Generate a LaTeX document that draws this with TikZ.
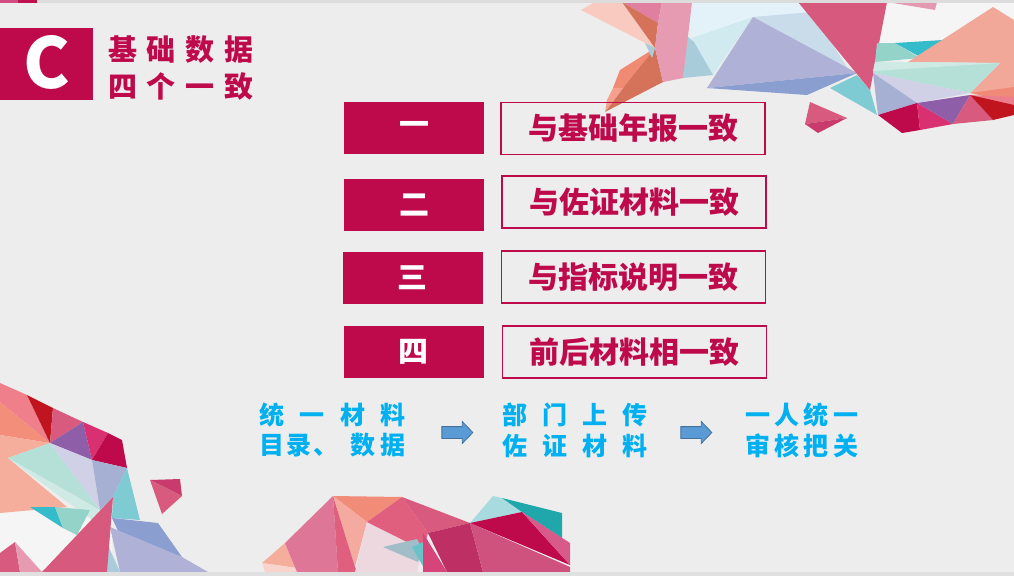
\documentclass[tikz,border=0pt]{standalone}
\usepackage{fontspec}
\setmainfont{Noto Sans CJK SC}
\usetikzlibrary{shapes.arrows}
\definecolor{bg}{HTML}{EDEDED}
\definecolor{crim}{RGB}{190,10,75}
\definecolor{cblue}{RGB}{0,176,240}
\definecolor{arrfill}{HTML}{5B9BD5}
\definecolor{arrdraw}{HTML}{41719C}
\newcommand\shard[2]{\definecolor{shardc}{HTML}{#1}\fill[shardc] #2 -- cycle;}
\tikzset{
  numbox/.style={fill=crim, minimum width=140pt, minimum height=52pt, inner sep=0pt, text=white, font=\bfseries\fontsize{30}{30}\selectfont},
  itembox/.style={draw=crim, line width=1.1pt, minimum width=264pt, minimum height=52pt, inner sep=0pt, text=crim, font=\bfseries\fontsize{30}{30}\selectfont},
  bluetxt/.style={text=cblue, font=\bfseries\fontsize{25}{25}\selectfont, inner sep=0pt},
  titletxt/.style={text=crim, font=\bfseries\fontsize{29}{29}\selectfont, inner sep=0pt},
  blockarrow/.style={single arrow, draw=arrdraw, fill=arrfill, line width=0.8pt, inner sep=0pt, text height=11pt, text depth=0pt, text width=1pt, minimum height=31pt, single arrow head extend=5pt, single arrow tip angle=92},
}
\begin{document}
\begin{tikzpicture}[x=1pt,y=-1pt]
\useasboundingbox (0,0) rectangle (1014,576);
\fill[bg] (0,0) rectangle (1014,576);
% ---------- top-right decoration ----------
\shard{F5F5F5}{(875,2)--(1014,2)--(1014,70)--(905,62)--(875,45)}
\shard{F9CBC0}{(581,10)--(595,2)--(622,2)--(655,48)}
\shard{E07FA0}{(622,2)--(662,2)--(658,23)}
\shard{D4735A}{(622,2)--(658,23)--(655,48)}
\shard{F08A72}{(655,48)--(620,70)--(613,88)--(623,88)}
\shard{D4735A}{(655,48)--(663,82)--(605,112)--(623,88)}
\shard{F5A08C}{(613,88)--(623,88)--(605,112)--(607,100)}
\shard{A9CCDB}{(645,43)--(655,48)--(652,58)}
\shard{E2F2F8}{(690,22)--(692,2)--(800,2)--(812,25)--(753,17)--(692,38)}
\shard{D0EAEF}{(692,38)--(753,17)--(713,75)--(700,62)}
\shard{C8DCEA}{(753,17)--(812,12)--(850,72)--(795,40)}
\shard{A9CCDB}{(686,35)--(694,42)--(713,75)--(683,78)}
\shard{E79BB3}{(662,2)--(692,2)--(683,78)--(663,82)--(655,48)--(658,23)}
\shard{AFB2D6}{(753,17)--(707,88)--(857,73)}
\shard{8A9FD0}{(707,88)--(807,95)--(857,73)}
\shard{7ECBD3}{(830,88)--(857,75)--(870,90)--(877,115)}
\shard{D75A7E}{(798,2)--(887,2)--(870,90)}
\shard{E39AB0}{(887,2)--(937,2)--(935,10)}
\shard{94D3C8}{(877,43)--(895,43)--(920,58)--(875,62)}
\shard{35BCCB}{(895,43)--(943,40)--(920,57)}
\shard{F2A898}{(908,62)--(993,7)--(1014,20)--(1014,93)--(970,93)--(1000,63)}
\shard{B5E0D8}{(875,62)--(1000,63)--(970,93)--(873,73)}
\shard{CFEAE4}{(875,62)--(1000,63)--(873,71)}
\shard{D0D1E6}{(873,73)--(970,93)--(917,103)}
\shard{A6B0D3}{(873,73)--(917,103)--(878,115)}
\shard{BE0A4B}{(878,115)--(917,103)--(920,130)--(902,133)}
\shard{D83070}{(917,103)--(953,124)--(920,130)}
\shard{8E5FA8}{(917,103)--(970,95)--(953,124)}
\shard{D85A7E}{(970,95)--(993,120)--(953,124)}
\shard{F08A78}{(970,93)--(1014,87)--(1014,103)}
\shard{EC7D8C}{(970,95)--(1014,97)--(1014,108)}
\shard{C0141E}{(970,95)--(1014,105)--(1014,115)--(993,120)}
\shard{D85A7E}{(810,102)--(847,118)--(805,124)}
\shard{C93B6C}{(805,124)--(847,118)--(818,133)}
% ---------- bottom-left decoration ----------
\shard{F5F5F5}{(0,505)--(60,508)--(112,518)--(112,572)--(0,572)}
\shard{EE7F8B}{(0,383)--(27,395)--(50,443)--(0,402)}
\shard{F28E7A}{(0,402)--(50,443)--(0,435)}
\shard{C0141E}{(27,395)--(53,408)--(50,443)}
\shard{D85A7E}{(53,408)--(83,422)--(50,443)}
\shard{8E5FA8}{(50,443)--(83,422)--(92,460)}
\shard{D83070}{(83,422)--(108,433)--(92,460)}
\shard{BE0A4B}{(108,433)--(122,440)--(127,468)--(92,460)}
\shard{F5AE9C}{(0,435)--(50,443)--(8,458)--(67,507)--(0,513)}
\shard{B5E0D8}{(8,458)--(50,443)--(100,510)}
\shard{CFEAE4}{(8,458)--(100,510)--(92,520)}
\shard{D0D1E6}{(50,443)--(92,460)--(100,510)}
\shard{A6B0D3}{(92,460)--(127,468)--(113,497)--(100,510)}
\shard{7ECBD3}{(127,468)--(140,520)--(112,518)--(113,497)}
\shard{35BCCB}{(30,507)--(55,507)--(63,528)}
\shard{94D3C8}{(55,507)--(90,510)--(77,535)--(63,528)}
\shard{8A9FD0}{(112,518)--(158,523)--(182,557)--(120,535)}
\shard{AFB2D6}{(110,527)--(182,557)--(208,572)--(120,572)}
\shard{A9CCDB}{(107,543)--(120,572)--(107,572)}
\shard{D75A7E}{(113,497)--(107,572)--(42,572)}
\shard{D85A7E}{(0,553)--(15,542)--(20,572)--(0,572)}
\shard{E79BB3}{(15,542)--(42,572)--(20,572)}
\shard{C93B6C}{(150,480)--(180,479)--(182,496)}
\shard{D85A7E}{(150,480)--(182,496)--(162,514)}
% ---------- bottom-middle decoration ----------
\shard{A8DBDF}{(493,496)--(502,498)--(522,512)--(470,523)}
\shard{20A7AC}{(502,498)--(562,513)--(562,538)--(522,512)}
\shard{F5AE9C}{(262,563)--(285,543)--(297,568)}
\shard{FAD3CC}{(262,563)--(297,568)--(297,572)--(265,572)}
\shard{DE7797}{(285,543)--(333,496)--(338,572)--(297,572)}
\shard{F08C78}{(333,496)--(402,497)--(367,522)}
\shard{F5AAA0}{(333,496)--(367,522)--(355,567)}
\shard{E05F7E}{(333,496)--(355,567)--(358,572)--(338,572)}
\shard{EDD8E0}{(367,522)--(423,550)--(417,572)--(355,572)}
\shard{E05F7E}{(367,522)--(402,497)--(428,533)--(423,550)}
\shard{A0BDC8}{(383,547)--(417,539)--(423,550)--(418,562)}
\shard{67C3C8}{(412,547)--(428,540)--(424,568)}
\shard{D85A7E}{(402,497)--(470,523)--(428,533)}
\shard{D6457A}{(423,533)--(447,572)--(423,572)}
\shard{BE3064}{(428,533)--(470,523)--(483,572)--(447,572)}
\shard{CF527E}{(470,523)--(570,567)--(570,572)--(483,572)}
\shard{BE0A4B}{(470,523)--(522,512)--(570,565)}
\shard{D85A88}{(522,512)--(570,543)--(570,565)}
% ---------- frame strips ----------
\shard{DCDCDC}{(0,0)--(1014,0)--(1014,2.5)--(0,2.5)}
\shard{D04B7F}{(0,0)--(18,0)--(18,2.5)--(0,2.5)}
\shard{C0104E}{(18,0)--(37,0)--(37,2.5)--(18,2.5)}
\shard{E0E0E0}{(0,572)--(1014,572)--(1014,576)--(0,576)}
% ---------- title ----------
\node[fill=crim, minimum width=93pt, minimum height=72pt, inner sep=0pt, anchor=north west] (cbox) at (0,28) {};
\node[text=white, font=\bfseries\fontsize{70}{70}\selectfont, inner sep=0pt] (cletter) at (47,62) {C};
\node[titletxt] (title1) at (180.5,50) {\makebox[145pt][s]{基\hfill 础\hfill 数\hfill 据}};
\node[titletxt] (title2) at (180.5,86) {\makebox[145pt][s]{四\hfill 个\hfill 一\hfill 致}};
% ---------- boxes ----------
\node[numbox] (n1) at (414,128) {一};
\node[itembox] (i1) at (633,128.5) {与基础年报一致};
\node[numbox] (n2) at (414,205) {二};
\node[itembox] (i2) at (634,202) {与佐证材料一致};
\node[numbox] (n3) at (412.5,277.5) {三};
\node[itembox] (i3) at (633.5,277) {与指标说明一致};
\node[numbox] (n4) at (413.5,352) {四};
\node[itembox] (i4) at (634.5,352) {前后材料相一致};
% ---------- bottom flow ----------
\node[bluetxt] (a1) at (332.5,415) {\makebox[146pt][s]{统\hfill 一\hfill 材\hfill 料}};
\node[bluetxt] (a2) at (332.5,445.5) {\makebox[146pt][s]{目\hspace{2pt}录\hspace{2pt}、\hfill 数\hspace{5pt}据}};
\node[bluetxt] (b1) at (574.5,415) {\makebox[145pt][s]{部\hfill 门\hfill 上\hfill 传}};
\node[bluetxt] (b2) at (574.5,445.5) {\makebox[145pt][s]{佐\hfill 证\hfill 材\hfill 料}};
\node[bluetxt] (c1) at (801.5,415) {\makebox[113pt][s]{一\hfill 人\hfill 统\hfill 一}};
\node[bluetxt] (c2) at (801.5,445.5) {\makebox[113pt][s]{审\hfill 核\hfill 把\hfill 关}};
\node[blockarrow] (arr1) at (454.5,432.5) {};
\node[blockarrow] (arr2) at (693.5,432.5) {};
\end{tikzpicture}
\end{document}
